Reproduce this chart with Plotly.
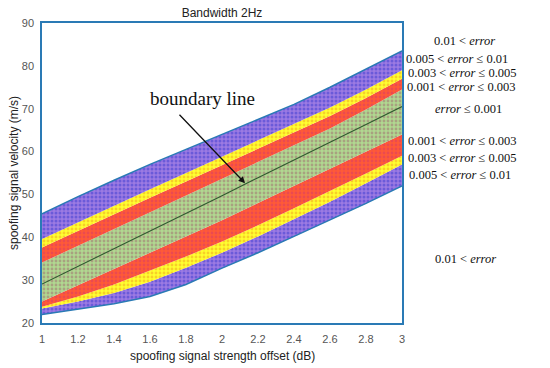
import plotly.graph_objects as go

# data: x positions and band boundary curves (velocity, m/s)
offset_db = [1.0, 1.2, 1.4, 1.6, 1.8, 2.0, 2.2, 2.4, 2.6, 2.8, 3.0]
top_edge = [45.5, 49.5, 53.3, 57.0, 60.5, 64.0, 67.5, 71.0, 75.0, 79.2, 83.5]
upper_purple_yellow = [39.6, 43.5, 47.4, 51.2, 55.0, 58.8, 62.6, 66.4, 70.3, 74.5, 79.0]
upper_yellow_red = [37.6, 41.5, 45.4, 49.2, 53.0, 56.8, 60.6, 64.4, 68.3, 72.5, 77.0]
upper_red_green = [34.1, 38.0, 41.9, 45.8, 49.7, 53.6, 57.5, 61.4, 65.4, 69.8, 74.5]
boundary_line = [29.1, 33.2, 37.3, 41.4, 45.5, 49.7, 53.9, 58.1, 62.2, 66.3, 70.5]
lower_green_red = [25.0, 28.8, 32.6, 36.4, 40.2, 44.0, 48.0, 52.0, 56.0, 60.0, 64.0]
lower_red_yellow = [23.8, 26.2, 29.0, 32.2, 35.5, 39.0, 42.8, 46.8, 50.8, 54.9, 59.0]
lower_yellow_purple = [23.4, 25.0, 27.0, 29.6, 32.9, 36.4, 40.2, 44.2, 48.3, 52.6, 57.0]
bottom_edge = [22.0, 23.2, 24.5, 26.2, 29.0, 32.8, 36.4, 40.2, 44.0, 47.9, 52.0]

x_ticks = [1, 1.2, 1.4, 1.6, 1.8, 2, 2.2, 2.4, 2.6, 2.8, 3]
y_ticks = [20, 30, 40, 50, 60, 70, 80, 90]

right_labels = [
    ("0.01 < <i>error</i>", 85.8, 3.165),
    ("0.005 < <i>error</i> ≤ 0.01", 81.6, 3.012),
    ("0.003 < <i>error</i> ≤ 0.005", 78.3, 3.02),
    ("0.001 < <i>error</i> ≤ 0.003", 75.1, 3.015),
    ("<i>error</i> ≤ 0.001", 70.0, 3.17),
    ("0.001 < <i>error</i> ≤ 0.003", 62.5, 3.02),
    ("0.003 < <i>error</i> ≤ 0.005", 58.6, 3.02),
    ("0.005 < <i>error</i> ≤ 0.01", 54.6, 3.025),
    ("0.01 < <i>error</i>", 35.0, 3.175),
]

X_RANGE = [1, 3]

PURPLE = dict(shape='.', bgcolor='#9c7ae2', fgcolor='#3a3ad0', size=4, solidity=0.45)
YELLOW = dict(shape='.', bgcolor='#ffff30', fgcolor='#f0a020', size=4, solidity=0.4)
RED = dict(shape='.', bgcolor='#ff5a36', fgcolor='#d83a6a', size=4, solidity=0.4)
GREEN = dict(shape='.', bgcolor='#b0d890', fgcolor='#a06a70', size=4, solidity=0.4)

fig = go.Figure()
layers = [
    (bottom_edge, None),
    (lower_yellow_purple, PURPLE),
    (lower_red_yellow, YELLOW),
    (lower_green_red, RED),
    (upper_red_green, GREEN),
    (upper_yellow_red, RED),
    (upper_purple_yellow, YELLOW),
    (top_edge, PURPLE),
]
for ys, pat in layers:
    if pat is None:
        fig.add_trace(go.Scatter(x=offset_db, y=ys, mode='lines',
                                 line=dict(width=0), hoverinfo='skip', showlegend=False))
    else:
        fig.add_trace(go.Scatter(x=offset_db, y=ys, mode='lines', fill='tonexty',
                                 fillcolor=pat['bgcolor'], fillpattern=pat,
                                 line=dict(width=0), hoverinfo='skip', showlegend=False))

# outline of region
fig.add_trace(go.Scatter(x=offset_db, y=top_edge, mode='lines',
                         line=dict(color='#2a7ab5', width=1.5), showlegend=False))
fig.add_trace(go.Scatter(x=offset_db, y=bottom_edge, mode='lines',
                         line=dict(color='#2a7ab5', width=1.5), showlegend=False))
# boundary line
fig.add_trace(go.Scatter(x=offset_db, y=boundary_line, mode='lines',
                         line=dict(color='#2f5a2f', width=1.1), showlegend=False))

for text, yv, xv in right_labels:
    fig.add_annotation(x=(xv - X_RANGE[0]) / (X_RANGE[1] - X_RANGE[0]), y=yv,
                       xref='paper', yref='y', text=text, showarrow=False,
                       xanchor='left', yanchor='middle',
                       font=dict(family='Liberation Serif', size=12.5, color='#111'))

fig.add_annotation(x=1.89, y=72.4, xref='x', yref='y', text='boundary line', showarrow=False,
                   font=dict(family='Liberation Serif', size=19, color='#111'))
fig.add_annotation(x=2.128, y=52.6, xref='x', yref='y', text='', showarrow=True,
                   ax=-67, ay=-70, arrowhead=2, arrowsize=1, arrowwidth=1.3, arrowcolor='#111')

fig.add_annotation(x=-37 / 360, y=0.5, xref='paper', yref='paper', xanchor='left',
                   text='spoofing signal velocity (m/s)', textangle=-90, showarrow=False,
                   font=dict(family='Liberation Sans', size=12, color='#222'))
fig.add_annotation(x=0.5, y=-24 / 300, xref='paper', yref='paper', yanchor='top',
                   text='spoofing signal strength offset (dB)', showarrow=False,
                   font=dict(family='Liberation Sans', size=12, color='#222'))

fig.update_layout(
    width=550, height=368,
    margin=dict(l=42, r=148, t=23, b=45, autoexpand=False),
    paper_bgcolor='white', plot_bgcolor='white',
    title=dict(text='Bandwidth 2Hz', x=(42 + 180) / 550, xanchor='center',
               y=1 - 13 / 368, yanchor='middle',
               font=dict(family='Liberation Sans', size=12, color='#222')),
    font=dict(family='Liberation Sans', size=11, color='#555'),
    xaxis=dict(range=X_RANGE, tickvals=x_ticks, ticktext=[str(t) for t in x_ticks],
               showgrid=False, zeroline=False, showline=True, mirror=True,
               linecolor='#2a7ab5', linewidth=1.5, ticks='', automargin=False,
               ticklabelstandoff=5),
    yaxis=dict(range=[20, 90], tickvals=y_ticks, showgrid=False, zeroline=False,
               showline=True, mirror=True, linecolor='#2a7ab5', linewidth=1.5, ticks='',
               automargin=False, ticklabelstandoff=4),
)

fig.write_html('out.html', config={'displayModeBar': False},
               post_script="document.body.style.margin='0';")
